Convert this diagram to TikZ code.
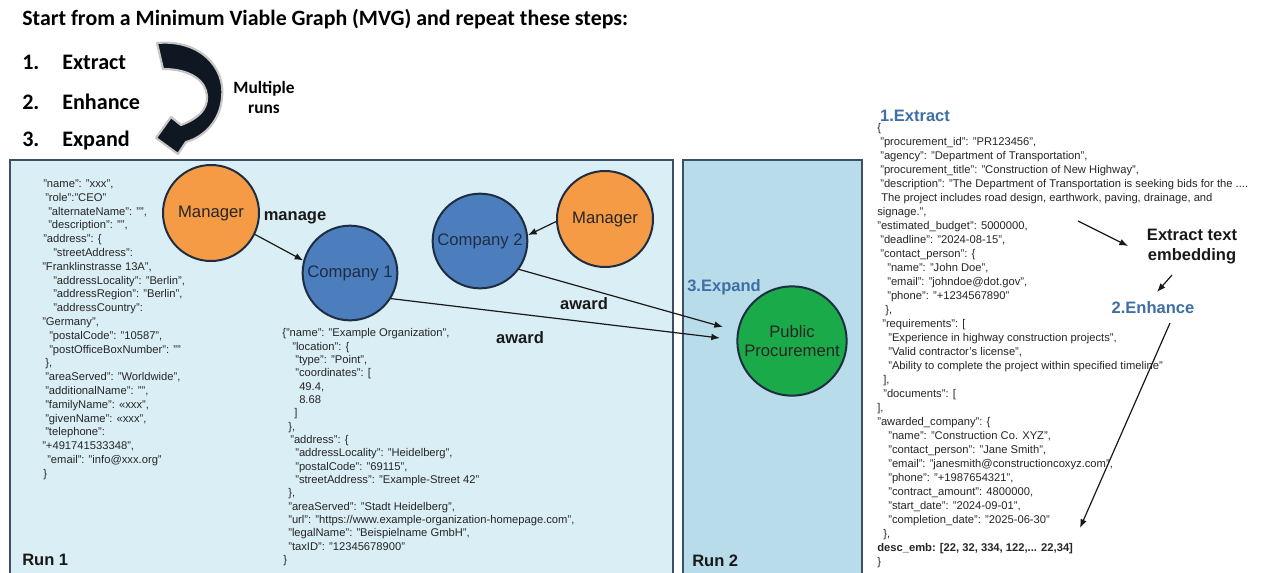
\documentclass[tikz,border=0pt]{standalone}
\usepackage{fontspec}
\setmainfont{Liberation Sans}
\newfontfamily\calibrifont{Carlito}
\usetikzlibrary{arrows.meta,calc}
\newdimen\pxunit \pxunit=0.75pt
\newcommand\jind[1]{\hspace*{#1\pxunit}}
\definecolor{runA}{HTML}{DAEEF5}
\definecolor{runB}{HTML}{B8DCE9}
\definecolor{panelframe}{HTML}{3C4F64}
\definecolor{mgrfill}{HTML}{F59B45}
\definecolor{compfill}{HTML}{4C7EBD}
\definecolor{pubfill}{HTML}{1BAA4A}
\definecolor{ringc}{HTML}{1E2D42}
\definecolor{stepblue}{HTML}{3F6FA4}
\definecolor{jsontext}{HTML}{262626}
\definecolor{curvefill}{HTML}{0F1722}
\begin{document}
\begin{tikzpicture}[x=0.75pt,y=-0.75pt,
  runpanel/.style={draw=panelframe, line width=2.2pt},
  entity/.style={circle, draw=ringc, line width=1.5pt, inner sep=0pt,
    align=center, text=black!85, font=\fontsize{12.5}{14.5}\selectfont},
  manager/.style={entity, fill=mgrfill, minimum size=72pt},
  company/.style={entity, fill=compfill, minimum size=71pt, text=ringc},
  public/.style={entity, fill=pubfill, minimum size=82pt},
  boldlbl/.style={inner sep=0pt, font=\bfseries\fontsize{12.4}{15}\selectfont, text=black!90},
  steplbl/.style={inner sep=0pt, font=\bfseries\fontsize{12.4}{15}\selectfont, text=stepblue},
  json/.style={inner sep=0pt, anchor=north west, align=left, text=jsontext},
  conn/.style={line width=0.9pt, black!90, -{Latex[length=6.5pt,width=5pt]}},
  headline/.style={inner sep=0pt, font=\calibrifont\bfseries\fontsize{16.4}{19}\selectfont},
  steptext/.style={inner sep=0pt, anchor=west, font=\calibrifont\bfseries\fontsize{16.6}{19}\selectfont}
]
\useasboundingbox (0,0) rectangle (1263,572);
\clip (0,0) rectangle (1263,572);
\fill[white] (0,0) rectangle (1263,572);

% run panels (open towards the bottom edge)
\draw[runpanel, fill=runA] (10,160) rectangle (673,600);
\draw[runpanel, fill=runB] (683,160) rectangle (862,600);

% heading and the three steps
\node[headline, anchor=base west] (head) at (22,25) {Start from a Minimum Viable Graph (MVG) and repeat these steps:};
\node[steptext] (st1) at (22,62) {\makebox[30pt][l]{1.}Extract};
\node[steptext] (st2) at (22,102) {\makebox[30pt][l]{2.}Enhance};
\node[steptext] (st3) at (22,140) {\makebox[30pt][l]{3.}Expand};

% curved loop arrow
\draw[gray!45, line width=1.6pt, line join=round, fill=curvefill]
  (157,43) .. controls (199,39) and (226,67) .. (222,98)
  .. controls (220,121) and (204,137) .. (186,142)
  -- (178,154) -- (156,138) -- (171,117) -- (181,125)
  .. controls (197,119) and (208,110) .. (207,96)
  .. controls (206,81) and (191,69) .. (163,69) -- cycle;
\node[inner sep=0pt, align=center, font=\calibrifont\bfseries\fontsize{13}{15}\selectfont] (multi) at (264,97) {Multiple\\runs};

% entities
\node[manager] (m1) at (211,213) {Manager};
\node[company] (c1) at (350,273) {Company 1};
\node[company] (c2) at (480,241) {Company 2};
\node[manager] (m2) at (605,219) {Manager};
\node[public] (pp) at (792,341) {Public\\Procurement};

\coordinate (ppin1) at (723,327);
\coordinate (ppin2) at (720,338);

\draw[conn] (m1.-26) -- (c1.165);
\draw[conn] (m2.183) -- (c2.7);
\draw[conn] (c2.-36) -- (ppin1);
\draw[conn] (c1.-32) -- (ppin2);

\node[boldlbl] (lmanage) at (295,218) {manage};
\node[boldlbl] (laward1) at (584,304) {award};
\node[boldlbl] (laward2) at (520,338) {award};
\node[steplbl] (lexpand) at (724,287) {3.Expand};

\node[boldlbl, anchor=base west] (run1) at (22,565) {Run 1};
\node[boldlbl, anchor=base west] (run2) at (692,566) {Run 2};

% person record
\node[json, font=\fontsize{8.4}{10.35}\selectfont] (jperson) at (42,179.5) {%
\jind{1}"name": "xxx",\\
\jind{3}"role":"CEO"\\
\jind{6}"alternateName": "",\\
\jind{6}"description": "",\\
\jind{1}"address": \{\\
\jind{11}"streetAddress":\\
"Franklinstrasse 13A",\\
\jind{11}"addressLocality": "Berlin",\\
\jind{11}"addressRegion": "Berlin",\\
\jind{11}"addressCountry":\\
"Germany",\\
\jind{7}"postalCode": "10587",\\
\jind{7}"postOfficeBoxNumber": ""\\
\jind{3}\},\\
\jind{3}"areaServed": "Worldwide",\\
\jind{3}"additionalName": "",\\
\jind{3}"familyName": «xxx",\\
\jind{3}"givenName": «xxx",\\
\jind{3}"telephone":\\
"+491741533348",\\
\jind{5}"email": "info@xxx.org"\\
\jind{1}\}};

% organisation record
\node[json, font=\fontsize{8.4}{10.0}\selectfont] (jorg) at (282,328.5) {%
\{"name": "Example Organization",\\
\jind{10}"location": \{\\
\jind{13}"type": "Point",\\
\jind{13}"coordinates": [\\
\jind{17}49.4,\\
\jind{17}8.68\\
\jind{12}]\\
\jind{6}\},\\
\jind{8}"address": \{\\
\jind{13}"addressLocality": "Heidelberg",\\
\jind{13}"postalCode": "69115",\\
\jind{13}"streetAddress": "Example-Street 42"\\
\jind{6}\},\\
\jind{6}"areaServed": "Stadt Heidelberg",\\
\jind{6}"url": "https://www.example-organization-homepage.com",\\
\jind{6}"legalName": "Beispielname GmbH",\\
\jind{6}"taxID": "12345678900"\\
\jind{1}\}};

% procurement record
\node[steplbl] (lextract) at (915,116) {1.Extract};
\node[json, font=\fontsize{8.4}{10.5}\selectfont] (jproc) at (877,123.5) {%
\{\\
\jind{3}"procurement\_id": "PR123456",\\
\jind{3}"agency": "Department of Transportation",\\
\jind{3}"procurement\_title": "Construction of New Highway",\\
\jind{3}"description": "The Department of Transportation is seeking bids for the ....\\
\jind{4}The project includes road design, earthwork, paving, drainage, and\\
signage.",\\
"estimated\_budget": 5000000,\\
\jind{3}"deadline": "2024-08-15",\\
\jind{3}"contact\_person": \{\\
\jind{10}"name": "John Doe",\\
\jind{10}"email": "johndoe@dot.gov",\\
\jind{10}"phone": "+1234567890"\\
\jind{8}\},\\
\jind{5}"requirements": [\\
\jind{11}"Experience in highway construction projects",\\
\jind{11}"Valid contractor's license",\\
\jind{11}"Ability to complete the project within specified timeline"\\
\jind{6}],\\
\jind{6}"documents": [\\
],\\
"awarded\_company": \{\\
\jind{11}"name": "Construction Co. XYZ",\\
\jind{11}"contact\_person": "Jane Smith",\\
\jind{11}"email": "janesmith@constructioncoxyz.com",\\
\jind{11}"phone": "+1987654321",\\
\jind{11}"contract\_amount": 4800000,\\
\jind{11}"start\_date": "2024-09-01",\\
\jind{11}"completion\_date": "2025-06-30"\\
\jind{6}\},\\
\textbf{desc\_emb: [22, 32, 334, 122,... 22,34]}\\
\}};

\node[boldlbl, align=center] (embed) at (1192,247) {Extract text\\embedding};
\node[steplbl] (lenhance) at (1153,308) {2.Enhance};

\coordinate (descfrom) at (1078,221);
\coordinate (embedin) at (1128,246);
\coordinate (embedout) at (1172,275);
\coordinate (enhin) at (1157,292);
\coordinate (enhout) at (1170,323);
\coordinate (embtarget) at (1080,528);

\draw[conn] (descfrom) -- (embedin);
\draw[conn] (embedout) -- (enhin);
\draw[conn] (enhout) -- (embtarget);
\end{tikzpicture}
\end{document}
